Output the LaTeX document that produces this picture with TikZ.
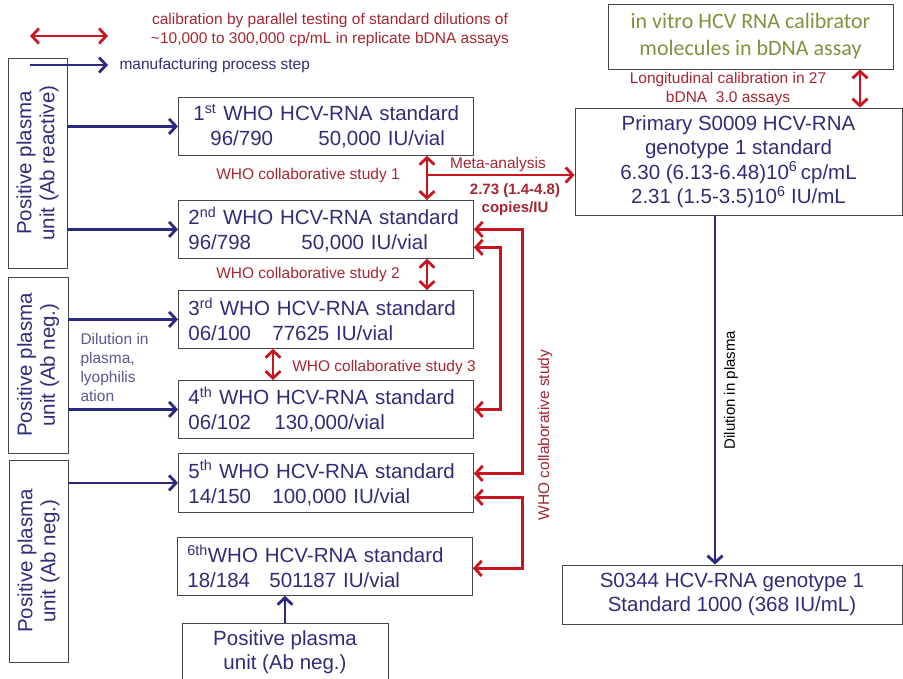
\documentclass[tikz,border=0pt]{standalone}
\usepackage{fontspec}
\setmainfont{Liberation Sans}
\newfontfamily\calfont{Carlito}
\usetikzlibrary{arrows.meta}

\definecolor{navy}{RGB}{46,46,120}
\definecolor{mfgblue}{RGB}{42,42,128}
\definecolor{calred}{RGB}{200,22,32}
\definecolor{lblred}{RGB}{165,38,50}
\definecolor{olive}{RGB}{128,146,62}
\definecolor{boxgray}{RGB}{70,70,70}

\newcommand{\who}[2]{#1\textsuperscript{#2} WHO HCV-RNA standard}
\newcommand{\lot}[3]{\makebox[#1][l]{#2}#3}

\begin{document}
\begin{tikzpicture}[
    x=1pt, y=-1pt,
    >={Straight Barb[length=7pt,width=15pt]},
    stdbox/.style = {draw=boxgray, line width=0.8pt, anchor=north west,
                     minimum height=58pt, text width=275pt, inner xsep=10pt,
                     align=left, text=navy, font=\fontsize{20.5}{25}\selectfont},
    srcbox/.style = {draw=boxgray, line width=0.8pt, rotate=90, align=center,
                     inner sep=0pt, text=navy, font=\fontsize{20.5}{23}\selectfont},
    rbox/.style   = {draw=boxgray, line width=0.8pt, align=center, inner sep=0pt,
                     text=navy, font=\fontsize{20.5}{24.5}\selectfont},
    mfg/.style    = {->, draw=mfgblue, line width=2.8pt},
    calib/.style  = {<->, draw=calred, line width=2.8pt},
    redlbl/.style = {text=lblred, font=\fontsize{15.5}{19}\selectfont, inner sep=1pt},
    bluelbl/.style= {text=navy!80, font=\fontsize{15.5}{19}\selectfont, align=left},
  ]
  \useasboundingbox (0,0) rectangle (903,679);
  % legend
  \coordinate (lr1) at (30,36);
  \coordinate (lr2) at (108,36);
  \coordinate (lb1) at (30,65);
  \coordinate (lb2) at (108,65);
  \draw[calib] (lr1) -- (lr2);
  \draw[mfg] (lb1) -- (lb2);
  \node[redlbl, align=center] (leg1) at (330,30)
    {calibration by parallel testing of standard dilutions of\\
     \textasciitilde10,000 to 300,000 cp/mL in replicate bDNA assays};
  \node[bluelbl, anchor=west, text=navy] (leg2) at (116,65) {manufacturing process step};
  % plasma units (left)
  \node[srcbox, minimum width=210pt, minimum height=59pt] (srcA) at (37.5,163)
    {Positive plasma\\unit (Ab reactive)};
  \node[srcbox, minimum width=176pt, minimum height=60pt] (srcB) at (38,365)
    {Positive plasma\\unit (Ab neg.)};
  \node[srcbox, minimum width=202pt, minimum height=59pt] (srcC) at (38.5,561)
    {Positive plasma\\unit (Ab neg.)};
  \node[rbox, minimum width=206pt, minimum height=58pt] (srcD) at (285,652)
    {Positive plasma\\unit (Ab neg.)};
  % WHO standards
  \node[stdbox] (b1) at (178,97)
    {\hspace*{5pt}\who{1}{st}\\\hspace*{22pt}\lot{108pt}{96/790}{50,000 IU/vial}};
  \node[stdbox] (b2) at (178,200) {\who{2}{nd}\\\lot{113pt}{96/798}{50,000 IU/vial}};
  \node[stdbox] (b3) at (178,290) {\who{3}{rd}\\\lot{84pt}{06/100}{77625 IU/vial}};
  \node[stdbox] (b4) at (178,380) {\who{4}{th}\\\lot{86pt}{06/102}{130,000/vial}};
  \node[stdbox, minimum height=59pt] (b5) at (178,453)
    {\who{5}{th}\\\lot{84pt}{14/150}{100,000 IU/vial}};
  \node[stdbox] (b6) at (177,537)
    {\textsuperscript{6th}WHO HCV-RNA standard\\\lot{82pt}{18/184}{501187 IU/vial}};
  % right column
  \node[rbox, minimum width=285pt, minimum height=65pt, text=olive,
        font=\calfont\fontsize{22}{27}\selectfont] (vitro) at (750.5,36.5)
    {in vitro HCV RNA calibrator\\molecules in bDNA assay};
  \node[rbox, minimum width=327pt, minimum height=107pt] (prim) at (738.5,161.5)
    {Primary S0009 HCV-RNA\\genotype 1 standard\\
     6.30 (6.13-6.48)10\textsuperscript{6}\,cp/mL\\
     2.31 (1.5-3.5)10\textsuperscript{6} IU/mL};
  \node[rbox, minimum width=340pt, minimum height=59pt] (s0344) at (732,594.5)
    {S0344 HCV-RNA genotype 1\\Standard 1000 (368 IU/mL)};
  % manufacturing steps
  \foreach \s/\b in {A/b1, A/b2, B/b3, B/b4, C/b5}
    {\draw[mfg] (src\s.south |- \b.west) -- (\b.west);}
  \draw[mfg] (srcD.north) -- (srcD.north |- b6.south);
  \node[bluelbl, anchor=west] (dil) at (77,367)
    {Dilution in\\plasma,\\lyophilis\\ation};
  \coordinate (dl) at (715,390);
  \draw[mfg] (dl |- prim.south) -- (dl |- s0344.north);
  \node[rotate=90, font=\fontsize{15}{18}\selectfont] (dillbl) at (731,390)
    {Dilution in plasma};
  % calibrations
  \coordinate (c12) at (427,175);
  \coordinate (c34) at (273,363);
  \coordinate (lc) at (860,88);
  \draw[calib] (c12 |- b1.south) -- (c12 |- b2.north);
  \draw[calib] (c12 |- b2.south) -- (c12 |- b3.north);
  \draw[calib] (c34 |- b3.south) -- (c34 |- b4.north);
  \draw[calib] (lc |- vitro.south) -- (lc |- prim.north);
  \draw[->, draw=calred, line width=2.8pt] (c12) -- (prim.west |- c12);
  \node[redlbl] (st1) at (308,175) {WHO collaborative study 1};
  \node[redlbl] (st2) at (308,274) {WHO collaborative study 2};
  \node[redlbl] (st3) at (384,367) {WHO collaborative study 3};
  \node[redlbl] (meta) at (498,164) {Meta-analysis};
  \node[redlbl, align=center, font=\bfseries\fontsize{15}{18}\selectfont] (ratio) at (515,200)
    {2.73 (1.4-4.8)\\copies/IU};
  \node[redlbl, align=center] (longi) at (728,89)
    {Longitudinal calibration in 27\\bDNA\ \ 3.0 assays};
  % WHO collaborative study links
  \draw[calib] (b2.east) -- ++(49,0) |- ([yshift=9.5pt]b5.east);
  \draw[calib] ([yshift=-18pt]b2.east) -- ++(27,0) |- (b4.east);
  \draw[calib] ([yshift=-14.5pt]b5.east) -- ++(49,0) |- ([yshift=-2pt]b6.east);
  \node[redlbl, rotate=90] (wcs) at (545,435) {WHO collaborative study};
\end{tikzpicture}
\end{document}
